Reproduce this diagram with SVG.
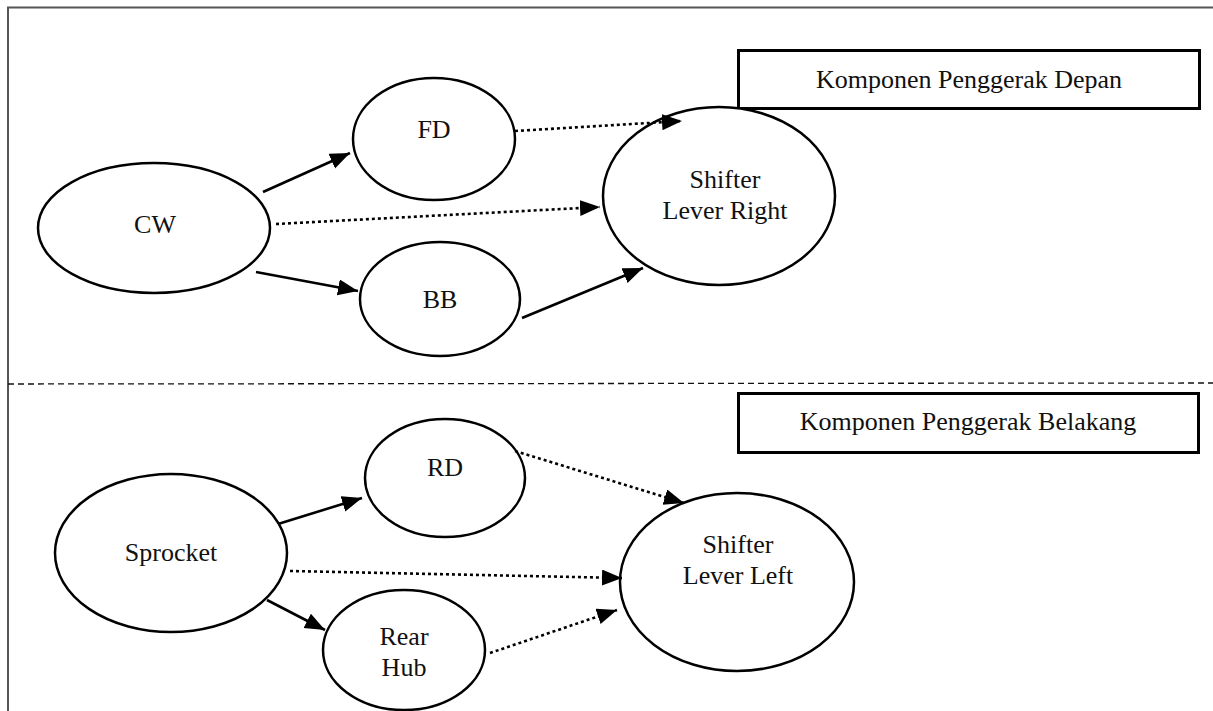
<svg xmlns="http://www.w3.org/2000/svg" width="1213" height="711" viewBox="0 0 1213 711">
<style>
.node ellipse{fill:#fff;stroke:#000;stroke-width:2.5}
.lbl{fill:#fff;stroke:#000;stroke-width:3}
text{font-family:"Liberation Serif","Times New Roman",serif;font-size:26px;fill:#111;text-anchor:middle}
.solid{stroke:#000;stroke-width:2.6;fill:none;marker-end:url(#ah)}
.dot{stroke:#000;stroke-width:2.6;fill:none;stroke-dasharray:3 3;marker-end:url(#ah)}
.frame{stroke:#555;stroke-width:2;fill:none}
</style>
<defs>
<marker id="ah" markerUnits="userSpaceOnUse" markerWidth="22" markerHeight="18" refX="20" refY="8" orient="auto">
<path d="M0,0 L20,8 L0,16 Z" fill="#000"/>
</marker>
</defs>
<rect width="1213" height="711" fill="#fff"/>
<g id="frame">
<path class="frame" d="M8,711 V7.5 H1213"/>
<line x1="8" y1="384" x2="1213" y2="383" stroke="#111" stroke-width="1.3" stroke-dasharray="6 4"/>
</g>
<g id="label-depan">
<rect class="lbl" x="738.5" y="50.5" width="461" height="58"/>
<text x="969" y="88">Komponen Penggerak Depan</text>
</g>
<g id="label-belakang">
<rect class="lbl" x="738.5" y="393.5" width="460" height="59"/>
<text x="968" y="430">Komponen Penggerak Belakang</text>
</g>
<g id="CW" class="node"><ellipse cx="154" cy="228" rx="116" ry="65"/><text x="155" y="233">CW</text></g>
<g id="FD" class="node"><ellipse cx="434" cy="139" rx="81" ry="61"/><text x="434" y="138">FD</text></g>
<g id="BB" class="node"><ellipse cx="440" cy="299" rx="80" ry="57"/><text x="440" y="308">BB</text></g>
<g id="SLR" class="node"><ellipse cx="719" cy="196" rx="116" ry="89"/><text x="725" y="188">Shifter</text><text x="725" y="219">Lever Right</text></g>
<g id="Sprocket" class="node"><ellipse cx="171" cy="553" rx="116" ry="79"/><text x="171" y="561">Sprocket</text></g>
<g id="RD" class="node"><ellipse cx="445" cy="478" rx="80" ry="59"/><text x="445" y="476">RD</text></g>
<g id="RearHub" class="node"><ellipse cx="404" cy="650" rx="81" ry="60"/><text x="404" y="645">Rear</text><text x="404" y="676">Hub</text></g>
<g id="SLL" class="node"><ellipse cx="737" cy="582" rx="117" ry="89"/><text x="738" y="553">Shifter</text><text x="738" y="584">Lever Left</text></g>
<g id="connectors">
<line class="solid" x1="263" y1="192" x2="350" y2="153"/>
<line class="dot" x1="276" y1="224" x2="600" y2="207"/>
<line class="solid" x1="256" y1="272" x2="358" y2="291"/>
<line class="dot" x1="515" y1="131" x2="682" y2="121"/>
<line class="solid" x1="522" y1="318" x2="643" y2="268"/>
<line class="solid" x1="278" y1="524" x2="362" y2="498"/>
<line class="dot" x1="515" y1="451" x2="684" y2="503"/>
<line class="dot" x1="290" y1="571" x2="622" y2="578"/>
<line class="solid" x1="267" y1="600" x2="325" y2="630"/>
<line class="dot" x1="490" y1="653" x2="617" y2="610"/>
</g>
</svg>
